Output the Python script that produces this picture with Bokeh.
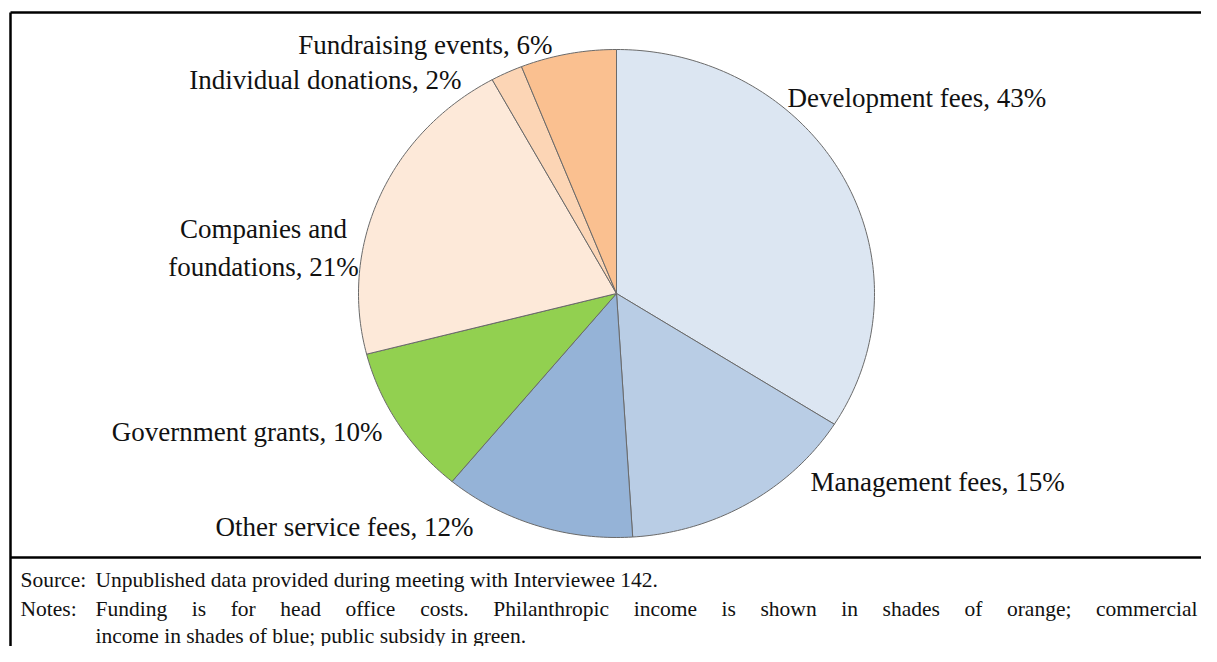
import numpy as np
from bokeh.plotting import figure
from bokeh.models import Range1d, ColumnDataSource
from bokeh.embed import file_html
from bokeh.resources import INLINE
from bokeh.core.properties import value

# ---------------- data ----------------
categories = ["Development fees", "Management fees", "Other service fees",
              "Government grants", "Companies and foundations",
              "Individual donations", "Fundraising events"]
shares = [34, 15, 12, 10, 21, 2, 6]            # drawn slice sizes
label_pcts = ["43%", "15%", "12%", "10%", "21%", "2%", "6%"]  # printed labels
colors = ["#DCE6F2", "#B9CDE5", "#95B3D7", "#92D050", "#FDE9D9", "#FCD5B5", "#FAC090"]

source_text = "Unpublished data provided during meeting with Interviewee 142."
notes_line1 = "Funding is for head office costs. Philanthropic income is shown in shades of orange; commercial"
notes_line2 = "income in shades of blue; public subsidy in green."

# ---------------- layout ----------------
W, H = 1201, 646
CX, CY, RX, RY = 616, 293, 258, 244
FONT = "Liberation Serif"
LABEL_FS = 27
NOTE_FS = 21.5

p = figure(width=W, height=H, output_backend="svg", toolbar_location=None,
           x_range=Range1d(0, W), y_range=Range1d(H, 0),
           x_axis_location=None, y_axis_location=None, min_border=0)
p.grid.visible = False
p.outline_line_color = None
p.background_fill_color = "white"
p.border_fill_color = "white"

# pie slices (clockwise from 12 o'clock, elliptical)
total = float(sum(shares))
xs, ys = [], []
start = 0.0
for s in shares:
    end = start + s / total * 2 * np.pi
    th = np.linspace(start, end, max(int(s * 4), 8))
    px = CX + RX * np.sin(th)
    py = CY - RY * np.cos(th)
    xs.append([CX] + list(px) + [CX])
    ys.append([CY] + list(py) + [CY])
    start = end
src = ColumnDataSource(dict(xs=xs, ys=ys, color=colors, name=categories))
p.patches("xs", "ys", source=src, fill_color="color", line_color="#6a6a6a", line_width=1)

# slice labels
label_layout = {
    "Development fees": dict(x=[787], y=[97], align="left"),
    "Management fees": dict(x=[810], y=[481], align="left"),
    "Other service fees": dict(x=[473], y=[526], align="right"),
    "Government grants": dict(x=[382], y=[431], align="right"),
    "Companies and foundations": dict(x=[263, 263], y=[228, 266], align="center",
                                      lines=["Companies and", "foundations, {}"]),
    "Individual donations": dict(x=[461], y=[79], align="right"),
    "Fundraising events": dict(x=[552], y=[44], align="right"),
}
for cat, pct in zip(categories, label_pcts):
    lay = label_layout[cat]
    lines = lay.get("lines", ["{}, {}".format(cat, pct)])
    lines = [ln.format(pct) if "{}" in ln else ln for ln in lines]
    p.text(x=lay["x"], y=lay["y"], text=lines, text_font=value(FONT),
           text_font_size="%gpx" % LABEL_FS, text_align=lay["align"],
           text_baseline="alphabetic", text_color="#111111")

# frame lines
p.segment(x0=[10, 10, 10], y0=[12, 12, 557], x1=[W, 10, W], y1=[12, H, 557],
          line_color="black", line_width=2.5)

# notes
times_w = {' ': 250, 'a': 444, 'b': 500, 'c': 444, 'd': 500, 'e': 444, 'f': 333, 'g': 500,
           'h': 500, 'i': 278, 'j': 278, 'k': 500, 'l': 278, 'm': 778, 'n': 500, 'o': 500,
           'p': 500, 'q': 500, 'r': 333, 's': 389, 't': 278, 'u': 500, 'v': 500, 'w': 722,
           'x': 500, 'y': 500, 'z': 444, 'F': 556, 'P': 556, '.': 250, ';': 278, ',': 250}

def word_w(wd, fs):
    return sum(times_w.get(c, 500) for c in wd) / 1000.0 * fs

note_x0, note_x1 = 95, 1197
row_y = [579, 608, 635]
p.text(x=[20, 20], y=row_y[:2], text=["Source:", "Notes:"], text_font=value(FONT),
       text_font_size="%gpx" % NOTE_FS, text_baseline="alphabetic", text_color="#111111")
p.text(x=[note_x0, note_x0], y=[row_y[0], row_y[2]], text=[source_text, notes_line2],
       text_font=value(FONT), text_font_size="%gpx" % NOTE_FS,
       text_baseline="alphabetic", text_color="#111111")

words = notes_line1.split(" ")
widths = [word_w(wd, NOTE_FS) for wd in words]
gap = (note_x1 - note_x0 - sum(widths)) / (len(words) - 1)
wx = []
cur = note_x0
for wdt in widths:
    wx.append(cur)
    cur += wdt + gap
p.text(x=wx, y=[row_y[1]] * len(words), text=words, text_font=value(FONT),
       text_font_size="%gpx" % NOTE_FS, text_baseline="alphabetic", text_color="#111111")

open("out.html", "w").write(file_html(p, INLINE))
